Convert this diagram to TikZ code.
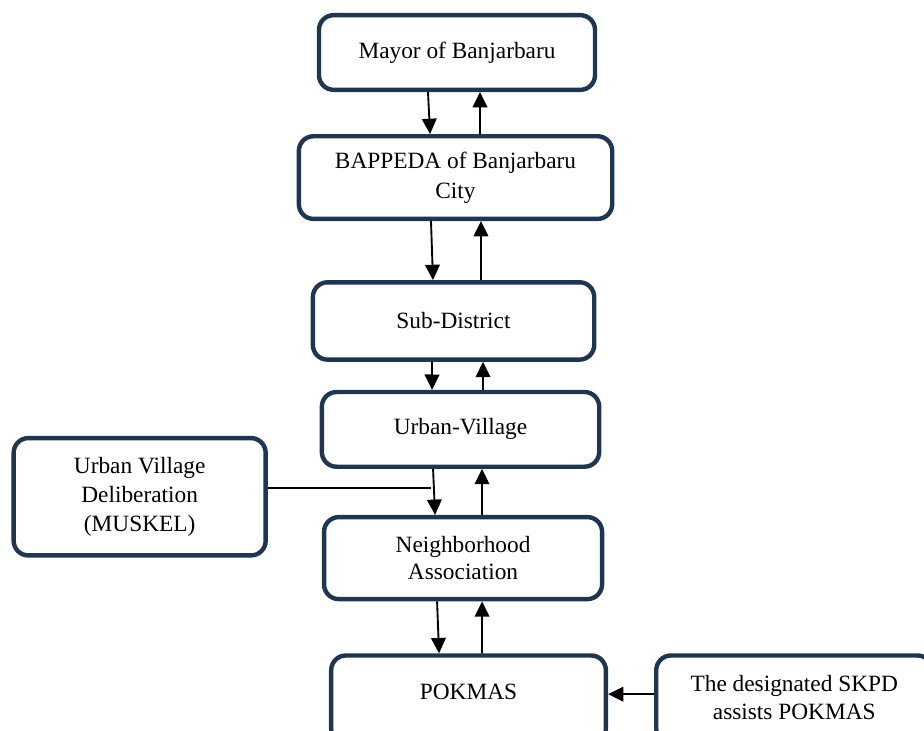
\documentclass[tikz,border=0pt]{standalone}
\usepackage{fontspec}
\setmainfont{Liberation Serif}
\usepackage{tikz}
\usetikzlibrary{positioning, arrows.meta}
\definecolor{boxnavy}{RGB}{31,53,80}
\tikzset{
>={Triangle[length=11.5pt, width=11pt]}, % filled arrow heads
flow/.style={->, line width=1.4pt}, % the arrows between the levels
unit/.style={draw=boxnavy, line width=3.3pt, rounded corners=11pt, fill=white,
  align=center, font=\fontsize{17.5}{20.5}\selectfont}, % sets the look of each box
}

\begin{document}
\begin{tikzpicture}
        \useasboundingbox (-342.75pt,39.375pt) rectangle (350.25pt,-508.875pt);

        \node[unit, minimum width=207pt, minimum height=56pt] (mayor) {Mayor of Banjarbaru};
        \node[unit, minimum width=235pt, minimum height=62pt, below = 31.5pt of mayor, xshift=-1.1pt] (bappeda) {BAPPEDA of Banjarbaru\\[2pt]City};
        \node[unit, minimum width=211pt, minimum height=58pt, below = 44.25pt of bappeda, xshift=-1.5pt] (sub) {Sub-District};
        \node[unit, minimum width=208pt, minimum height=56pt, below = 21pt of sub, xshift=5.25pt] (urban) {Urban-Village};
        \node[unit, minimum width=208.5pt, minimum height=61.5pt, below = 34.5pt of urban, xshift=1.9pt] (neigh) {Neighborhood\\Association};
        \node[unit, minimum width=206pt, minimum height=66pt, text depth=12pt, below = 39pt of neigh, xshift=4.1pt] (pokmas) {POKMAS};
        \node[unit, minimum width=207pt, minimum height=66pt, text depth=3pt, right = 34.5pt of pokmas] (skpd) {The designated SKPD\\assists POKMAS};
        \node[unit, minimum width=189pt, minimum height=88pt, left = 40.5pt of neigh, yshift=46pt] (muskel) {Urban Village\\[1pt]Deliberation\\[1pt](MUSKEL)};

        \coordinate (join) at ([xshift=-21pt, yshift=20.25pt]neigh.north);

        \draw[flow] ([xshift=-21.75pt]mayor.south) -- ([xshift=-19.1pt]bappeda.north);
        \draw[flow] ([xshift=18.4pt]bappeda.north) -- ([xshift=17.25pt]mayor.south);

        \draw[flow] ([xshift=-18.4pt]bappeda.south) -- ([xshift=-15.4pt]sub.north);
        \draw[flow] ([xshift=20.6pt]sub.north) -- ([xshift=19.1pt]bappeda.south);

        \draw[flow] ([xshift=-16.1pt]sub.south) -- ([xshift=-21.4pt]urban.north);
        \draw[flow] ([xshift=16.9pt]urban.north) -- ([xshift=22.1pt]sub.south);

        \draw[flow] ([xshift=-20.6pt]urban.south) -- ([xshift=-21pt]neigh.north);
        \draw[flow] ([xshift=14.25pt]neigh.north) -- ([xshift=16.1pt]urban.south);

        \draw[flow] ([xshift=-19.5pt]neigh.south) -- ([xshift=-22.1pt]pokmas.north);
        \draw[flow] ([xshift=10.1pt]pokmas.north) -- ([xshift=14.25pt]neigh.south);

        \draw[flow] ([yshift=4pt]skpd.west) -- ([yshift=4pt]pokmas.east);
        \draw[line width=1.1pt] (join -| muskel.east) -- ([xshift=-3pt]join);
\end{tikzpicture}
\end{document}
